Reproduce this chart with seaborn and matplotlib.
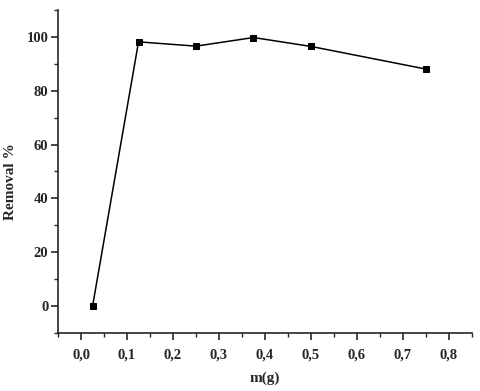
import matplotlib
matplotlib.use('Agg')
import matplotlib.pyplot as plt
import seaborn as sns
import pandas as pd
from matplotlib.ticker import MultipleLocator, FuncFormatter

# data
mass = [0.025, 0.125, 0.25, 0.375, 0.5, 0.75]
removal = [0.0, 98.1, 96.5, 99.7, 96.4, 88.0]

df = pd.DataFrame({'m': mass, 'removal': removal})

sns.set_style('ticks')
plt.rcParams['font.family'] = ['Liberation Serif', 'DejaVu Serif']
plt.rcParams['font.weight'] = 'bold'

fig, ax = plt.subplots(figsize=(4.8, 3.91), dpi=100)
fig.subplots_adjust(left=0.121, right=0.983, top=0.975, bottom=0.148)

sns.lineplot(x='m', y='removal', data=df, color='black', linewidth=1.1,
             marker='s', markersize=5, markeredgecolor='black', ax=ax)

ax.set_xlim(-0.05, 0.85)
ax.set_ylim(-10, 110)
ax.xaxis.set_major_locator(MultipleLocator(0.1))
ax.xaxis.set_minor_locator(MultipleLocator(0.05))
ax.yaxis.set_major_locator(MultipleLocator(20))
ax.yaxis.set_minor_locator(MultipleLocator(10))
ax.xaxis.set_major_formatter(FuncFormatter(lambda v, p: f'{v:.1f}'.replace('.', ',')))

ax.tick_params(which='major', length=5, width=1.2, labelsize=10.5)
ax.tick_params(which='minor', length=3, width=1.0)
ax.tick_params(axis='x', which='major', pad=6)
ax.tick_params(axis='y', which='major', pad=2)
for t in ax.get_xticklabels() + ax.get_yticklabels():
    t.set_fontweight('bold')

sns.despine(ax=ax)
for s in ['left', 'bottom']:
    ax.spines[s].set_linewidth(1.2)

ax.set_xlabel('m(g)', fontsize=11, fontweight='bold')
ax.set_ylabel('Removal %', fontsize=11, fontweight='bold')
ax.xaxis.set_label_coords(0.5, -0.12)
ax.yaxis.set_label_coords(-0.099, 0.47)

fig.savefig('out.png', dpi=100)
